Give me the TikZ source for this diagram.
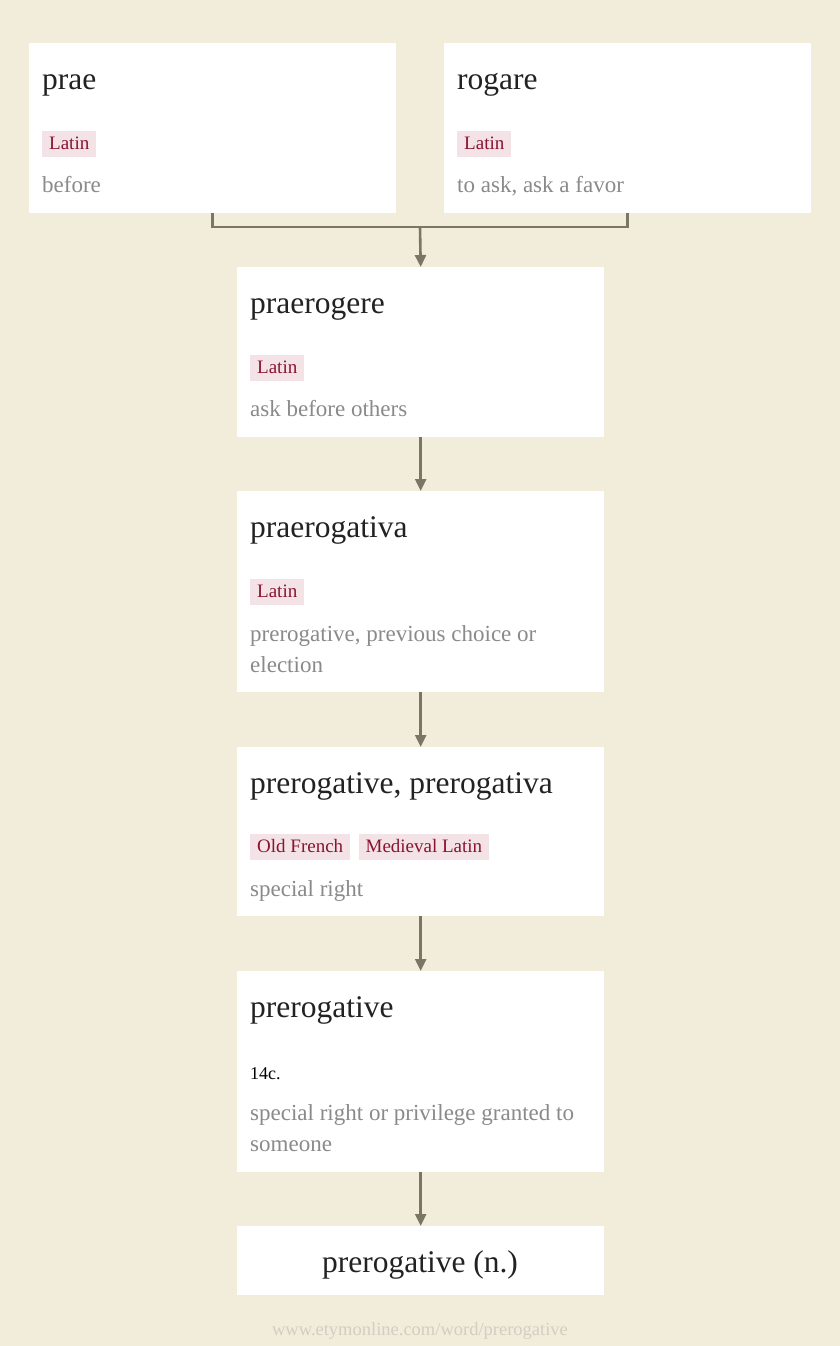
\documentclass[tikz,border=0pt]{standalone}
\usepackage{fontspec}
\setmainfont{Liberation Serif}
\usetikzlibrary{arrows.meta}
\definecolor{bg}{HTML}{F2ECDB}
\definecolor{conn}{HTML}{7B7564}
\definecolor{tagbg}{HTML}{F3E3E7}
\definecolor{tagfg}{HTML}{8A1232}
\definecolor{desc}{HTML}{8A8A8A}
\definecolor{ttl}{HTML}{222222}
\definecolor{urlc}{HTML}{D3CEC2}
\begin{document}
\begin{tikzpicture}[x=1pt,y=-1pt,
  card/.style={fill=white, draw=none, inner sep=0pt, anchor=north west, minimum width=367pt},
  ttltext/.style={anchor=base west, inner sep=0pt, text=ttl, font=\fontsize{31.5}{36}\selectfont},
  tagtext/.style={anchor=west, fill=tagbg, text=tagfg, font=\fontsize{19}{21}\selectfont, inner xsep=7pt, inner ysep=5pt, text height=13.5pt, text depth=2.5pt},
  desctext/.style={anchor=base west, inner sep=0pt, text=desc, font=\fontsize{23}{31}\selectfont, align=left},
  conn/.style={draw=conn, line width=2.6pt},
  arr/.style={conn, -{Triangle[length=12pt,width=11pt]}}
]
\fill[bg] (0,0) rectangle (840,1346);
\useasboundingbox (0,0) rectangle (840,1346);

% cards
\node[card, minimum height=170pt] (prae) at (29,43) {};
\node[card, minimum height=170pt] (rogare) at (444,43) {};
\node[card, minimum height=170pt] (praerogere) at (237,267) {};
\node[card, minimum height=201pt] (praerogativa) at (237,491) {};
\node[card, minimum height=169pt] (prerog2) at (237,747) {};
\node[card, minimum height=201pt] (prerog) at (237,971) {};
\node[card, minimum height=69pt] (final) at (237,1226) {};

% prae
\node[ttltext] (t1) at (42,89) {prae};
\node[tagtext] (g1) at (42,144) {Latin};
\node[desctext] (d1) at (42,192) {before};
% rogare
\node[ttltext] (t2) at (457,89) {rogare};
\node[tagtext] (g2) at (457,144) {Latin};
\node[desctext] (d2) at (457,192) {to ask, ask a favor};
% praerogere
\node[ttltext] (t3) at (250,313) {praerogere};
\node[tagtext] (g3) at (250,368) {Latin};
\node[desctext] (d3) at (250,416) {ask before others};
% praerogativa
\node[ttltext] (t4) at (250,537) {praerogativa};
\node[tagtext] (g4) at (250,592) {Latin};
\node[desctext] (d4) at (250,672) {prerogative, previous choice or\\election};
% prerogative, prerogativa
\node[ttltext] (t5) at (250,793) {prerogative, prerogativa};
\node[tagtext] (g5a) at (250,847) {Old French};
\node[tagtext, anchor=west] (g5b) at ([xshift=8pt]g5a.east) {Medieval Latin};
\node[desctext] (d5) at (250,896) {special right};
% prerogative
\node[ttltext] (t6) at (250,1017) {prerogative};
\node[anchor=base west, inner sep=0pt, text=black, font=\fontsize{18}{20}\selectfont] (g6) at (250,1079) {14c.};
\node[desctext] (d6) at (250,1151) {special right or privilege granted to\\someone};
% final
\node[anchor=base, inner sep=0pt, text=ttl, font=\fontsize{31.5}{36}\selectfont] (t7) at (420,1272) {prerogative (n.)};
% url
\node[anchor=base, inner sep=0pt, text=urlc, font=\fontsize{18.5}{20}\selectfont] (url) at (420,1335) {www.etymonline.com/word/prerogative};

% connectors
\coordinate (j) at (420,227);
\draw[conn] (prae.south) |- (j);
\draw[conn] (rogare.south) |- (j);
\draw[arr] (j) -- (praerogere.north);
\draw[arr] (praerogere.south) -- (praerogativa.north);
\draw[arr] (praerogativa.south) -- (prerog2.north);
\draw[arr] (prerog2.south) -- (prerog.north);
\draw[arr] (prerog.south) -- (final.north);
\end{tikzpicture}
\end{document}
